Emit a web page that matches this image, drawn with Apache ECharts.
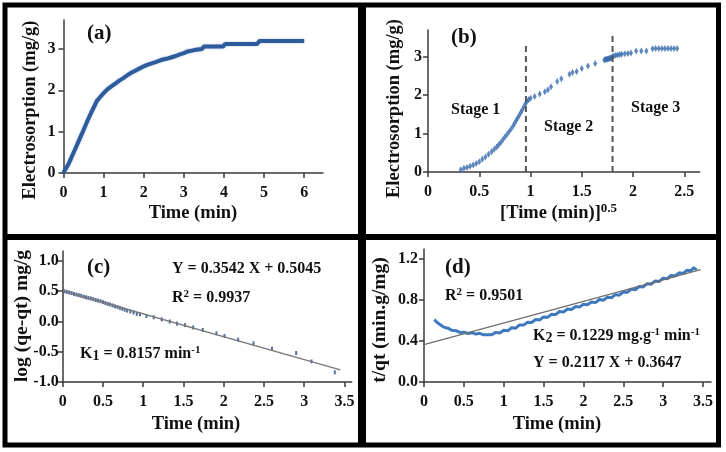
<!DOCTYPE html>
<html><head><meta charset="utf-8">
<script src="https://cdn.jsdelivr.net/npm/echarts@6/dist/echarts.min.js"></script>
<style>html,body{margin:0;padding:0;background:#fff}#c{width:726px;height:452px}</style>
</head><body><div id="c"></div>
<script>
// ---- Panel (a): electrosorption vs time
const aTime = [0, 0.05, 0.1, 0.2, 0.3, 0.4, 0.5, 0.6, 0.7, 0.83, 0.9, 1.0, 1.1, 1.2, 1.3, 1.4, 1.5, 1.6, 1.7, 1.8, 1.9, 2.0, 2.1, 2.2, 2.3, 2.4, 2.5, 2.6, 2.7, 2.8, 2.9, 3.0, 3.1, 3.2, 3.3, 3.45, 3.5, 3.98, 4.03, 4.83, 4.88, 6.0];
const aVal  = [0, 0.1, 0.17, 0.38, 0.6, 0.82, 1.04, 1.27, 1.48, 1.74, 1.82, 1.93, 2.03, 2.1, 2.17, 2.24, 2.3, 2.37, 2.43, 2.48, 2.53, 2.58, 2.62, 2.65, 2.68, 2.72, 2.75, 2.77, 2.8, 2.83, 2.87, 2.9, 2.94, 2.96, 2.98, 3.0, 3.06, 3.06, 3.12, 3.12, 3.19, 3.19];
const aXTicks = [0, 1, 2, 3, 4, 5, 6];
const aYTicks = [0, 1, 2, 3];

// ---- Panel (b): electrosorption vs sqrt(time)
const bSqrt = [0.32, 0.35, 0.38, 0.41, 0.44, 0.47, 0.50, 0.53, 0.56, 0.59, 0.62, 0.645, 0.67, 0.69, 0.71, 0.73, 0.75, 0.77, 0.79, 0.81, 0.83, 0.845, 0.86, 0.875, 0.89, 0.905, 0.92, 0.935, 0.95,
  0.965, 0.98, 1.0, 1.04, 1.09, 1.14, 1.17, 1.20, 1.26, 1.30, 1.38, 1.41, 1.45, 1.50, 1.56, 1.63,
  1.72, 1.73, 1.74, 1.75, 1.76, 1.77, 1.78, 1.79, 1.80, 1.81, 1.83, 1.85, 1.87, 1.89, 1.92, 1.95, 1.98,
  2.03, 2.08, 2.13, 2.19, 2.22, 2.25, 2.28, 2.31, 2.34, 2.37, 2.40, 2.43];
const bVal = [0.06, 0.1, 0.12, 0.15, 0.18, 0.22, 0.27, 0.33, 0.39, 0.46, 0.53, 0.59, 0.65, 0.71, 0.77, 0.84, 0.91, 0.98, 1.05, 1.12, 1.2, 1.27, 1.34, 1.41, 1.48, 1.55, 1.62, 1.7, 1.78,
  1.84, 1.88, 1.92, 1.97, 2.03, 2.09, 2.14, 2.22, 2.36, 2.43, 2.55, 2.59, 2.62, 2.70, 2.76, 2.83,
  2.92, 2.93, 2.94, 2.94, 2.95, 2.96, 2.97, 2.98, 3.0, 3.02, 3.04, 3.05, 3.06, 3.07, 3.08, 3.09, 3.1,
  3.15, 3.15, 3.15, 3.21, 3.22, 3.22, 3.22, 3.22, 3.22, 3.22, 3.22, 3.22];
const bStageX = [0.955, 1.80];
const bStageTop = [3.35, 3.65];
const bStageNames = ['Stage 1', 'Stage 2', 'Stage 3'];
const bXTicks = [0, 0.5, 1, 1.5, 2, 2.5];
const bYTicks = [0, 1, 2, 3];

// ---- Panel (c): pseudo-first-order
const cTime = [0.02, 0.05, 0.08, 0.11, 0.14, 0.17, 0.2, 0.23, 0.26, 0.29, 0.32, 0.35, 0.38, 0.41, 0.44, 0.47, 0.5, 0.53, 0.56, 0.59, 0.62, 0.65, 0.68, 0.71, 0.74, 0.77, 0.80,
  0.84, 0.88, 0.92, 0.96, 1.04, 1.13, 1.23, 1.33, 1.42, 1.52, 1.62, 1.74, 1.91, 2.01, 2.18, 2.37, 2.60, 2.90, 3.09, 3.38];
const cVal = [0.50, 0.49, 0.48, 0.47, 0.455, 0.445, 0.435, 0.425, 0.41, 0.40, 0.39, 0.38, 0.37, 0.355, 0.345, 0.335, 0.32, 0.305, 0.29, 0.28, 0.265, 0.25, 0.24, 0.225, 0.21, 0.195, 0.18,
  0.165, 0.15, 0.125, 0.12, 0.09, 0.07, 0.035, 0.0, -0.035, -0.06, -0.1, -0.14, -0.195, -0.24, -0.3, -0.36, -0.45, -0.52, -0.66, -0.84];
const cFitX = [0, 3.45];
const cFitY = [0.505, -0.80];
const cXTicks = [0, 0.5, 1, 1.5, 2, 2.5, 3, 3.5];
const cYTicks = [-1, -0.5, 0, 0.5, 1];

// ---- Panel (d): pseudo-second-order
const dTime = [0.13, 0.16, 0.2, 0.25, 0.3, 0.35, 0.4, 0.45, 0.5, 0.55, 0.6, 0.65, 0.7, 0.75, 0.8, 0.85, 0.9, 0.95, 1.0, 1.05, 1.1, 1.15, 1.2, 1.25, 1.3, 1.35, 1.4, 1.45, 1.5, 1.55, 1.6, 1.65, 1.7, 1.75, 1.8, 1.85, 1.9, 1.95, 2.0, 2.05, 2.1, 2.15, 2.2, 2.25, 2.3, 2.35, 2.4, 2.45, 2.5, 2.55, 2.6, 2.65, 2.7, 2.75, 2.8, 2.85, 2.9, 2.95, 3.0, 3.05, 3.1, 3.15, 3.2, 3.25, 3.3, 3.35, 3.38, 3.42];
const dVal = [0.61, 0.585, 0.562, 0.536, 0.526, 0.505, 0.502, 0.485, 0.487, 0.474, 0.482, 0.468, 0.476, 0.461, 0.463, 0.462, 0.485, 0.48, 0.505, 0.5, 0.53, 0.526, 0.558, 0.556, 0.585, 0.582, 0.611, 0.606, 0.636, 0.632, 0.663, 0.658, 0.689, 0.684, 0.713, 0.708, 0.737, 0.732, 0.761, 0.755, 0.782, 0.776, 0.806, 0.8, 0.829, 0.824, 0.854, 0.849, 0.88, 0.876, 0.908, 0.901, 0.934, 0.929, 0.961, 0.956, 0.987, 0.983, 1.014, 1.009, 1.041, 1.037, 1.067, 1.061, 1.092, 1.088, 1.118, 1.095];
const dFitX = [0, 3.47];
const dFitY = [0.3647, 1.099];
const dXTicks = [0, 0.5, 1, 1.5, 2, 2.5, 3, 3.5];
const dYTicks = [0, 0.4, 0.8, 1.2];

const FONT = '"Liberation Serif", "Times New Roman", serif';
const INK = '#111';
const AX = '#3a3a3a';
function zip(x, y) { return x.map((v, i) => [v, y[i]]); }

function axis(gi, min, max, ticks, margin, formatter) {
  return {
    type: 'value', gridIndex: gi, min: min, max: max,
    axisLine: { show: true, onZero: false, lineStyle: { color: AX, width: 1.5 } },
    axisTick: { show: true, inside: false, length: 5, customValues: ticks, lineStyle: { color: AX, width: 1.5 } },
    axisLabel: { customValues: ticks, margin: margin, fontFamily: FONT, fontWeight: 'bold', fontSize: 16, color: INK, formatter: formatter },
    splitLine: { show: false }
  };
}
const f1 = v => Number(v).toFixed(1);
const plain = v => String(v);

function txt(x, y, text, size, opts) {
  opts = opts || {};
  const base = { fontFamily: FONT, fontWeight: 'bold' };
  return {
    type: 'text', x: x, y: y, rotation: opts.rotation || 0, z: 100,
    style: {
      text: text, fontFamily: FONT, fontWeight: 'bold', fontSize: size, fill: INK,
      align: opts.align || 'left', verticalAlign: 'middle',
      rich: {
        sup: Object.assign({}, base, { fontSize: Math.round(size * 0.7), padding: [0, 0, 8, 0] }),
        sub: Object.assign({}, base, { fontSize: Math.round(size * 0.85), padding: [5, 0, 0, 0] })
      }
    }
  };
}

const chart = echarts.init(document.getElementById('c'), null, { renderer: 'canvas' });
const option = {
  backgroundColor: '#fff',
  animation: false,
  grid: [
    { left: 63.5, top: 20, width: 259.5, height: 153 },
    { left: 428, top: 30, width: 271.7, height: 142 },
    { left: 62.7, top: 251, width: 289, height: 131 },
    { left: 424, top: 249, width: 287, height: 133 }
  ],
  xAxis: [
    axis(0, 0, 6.47, aXTicks, 12, plain),
    axis(1, 0, 2.65, bXTicks, 12, plain),
    axis(2, 0, 3.59, cXTicks, 12, plain),
    axis(3, 0, 3.6, dXTicks, 12, plain)
  ],
  yAxis: [
    axis(0, 0, 3.7, aYTicks, 8, plain),
    axis(1, 0, 3.7, bYTicks, 6, plain),
    axis(2, -1, 1.165, cYTicks, 4, f1),
    axis(3, 0, 1.3, dYTicks, 6, f1)
  ],
  series: [
    { type: 'line', xAxisIndex: 0, yAxisIndex: 0, data: zip(aTime, aVal), showSymbol: false,
      lineStyle: { color: '#2d5b9b', width: 4, shadowColor: 'rgba(70,110,180,0.5)', shadowBlur: 2 } },
    { type: 'scatter', xAxisIndex: 1, yAxisIndex: 1, data: zip(bSqrt, bVal), symbol: 'diamond', symbolSize: [4, 7],
      itemStyle: { color: '#3569ad' } },
    ...bStageX.map((x, i) => ({
      type: 'line', xAxisIndex: 1, yAxisIndex: 1, data: [[x, 0], [x, bStageTop[i]]], showSymbol: false,
      lineStyle: { color: '#555', width: 2, type: [6, 4] }
    })),
    { type: 'line', xAxisIndex: 2, yAxisIndex: 2, data: zip(cFitX, cFitY), showSymbol: false,
      lineStyle: { color: '#7a7a7a', width: 1.5 } },
    { type: 'scatter', xAxisIndex: 2, yAxisIndex: 2, data: zip(cTime, cVal), symbol: 'rect', symbolSize: [2, 4],
      itemStyle: { color: '#2b4c86' } },
    { type: 'line', xAxisIndex: 3, yAxisIndex: 3, data: zip(dTime, dVal), showSymbol: false,
      lineStyle: { color: '#3f78bf', width: 3 } },
    { type: 'line', xAxisIndex: 3, yAxisIndex: 3, data: zip(dFitX, dFitY), showSymbol: false, z: 5,
      lineStyle: { color: '#6e6e6e', width: 1.2 } }
  ],
  graphic: [
    { type: 'rect', z: 200, shape: { x: 5, y: 5, width: 713.5, height: 440 }, style: { fill: 'none', stroke: '#000', lineWidth: 5 } },
    { type: 'line', z: 200, shape: { x1: 362, y1: 5, x2: 362, y2: 445 }, style: { stroke: '#000', lineWidth: 8 } },
    { type: 'line', z: 200, shape: { x1: 5, y1: 237, x2: 718.5, y2: 237 }, style: { stroke: '#000', lineWidth: 6 } },
    // panel titles
    txt(87, 34, '(a)', 21),
    txt(451, 38, '(b)', 21),
    txt(87, 268, '(c)', 21),
    txt(445, 268, '(d)', 21),
    // axis names
    txt(30, 110, 'Electrosorption (mg/g)', 18.5, { rotation: Math.PI / 2, align: 'center' }),
    txt(193, 213, 'Time (min)', 18.5, { align: 'center' }),
    txt(394.7, 108.5, 'Electrosorption (mg/g)', 18.5, { rotation: Math.PI / 2, align: 'center' }),
    txt(500, 213, '[Time (min)]{sup|0.5}', 18.5),
    txt(21.7, 316, 'log (qe-qt) mg/g', 19.5, { rotation: Math.PI / 2, align: 'center' }),
    txt(196, 424, 'Time (min)', 18.5, { align: 'center' }),
    txt(379.7, 320, 't/qt (min.g/mg)', 19.5, { rotation: Math.PI / 2, align: 'center' }),
    txt(557, 424, 'Time (min)', 18.5, { align: 'center' }),
    // stage labels
    txt(451, 110, bStageNames[0], 16),
    txt(544, 127, bStageNames[1], 16),
    txt(631, 108, bStageNames[2], 16),
    // annotations
    txt(172, 269, 'Y = 0.3542 X + 0.5045', 16),
    txt(172, 298, 'R{sup|2} = 0.9937', 16),
    txt(80, 354, 'K{sub|1} = 0.8157 min{sup|-1}', 16),
    txt(445, 296, 'R{sup|2} = 0.9501', 16),
    txt(533, 336, 'K{sub|2} = 0.1229 mg.g{sup|-1} min{sup|-1}', 16),
    txt(533, 363, 'Y = 0.2117 X + 0.3647', 16)
  ]
};
chart.setOption(option);
</script>
</body></html>
